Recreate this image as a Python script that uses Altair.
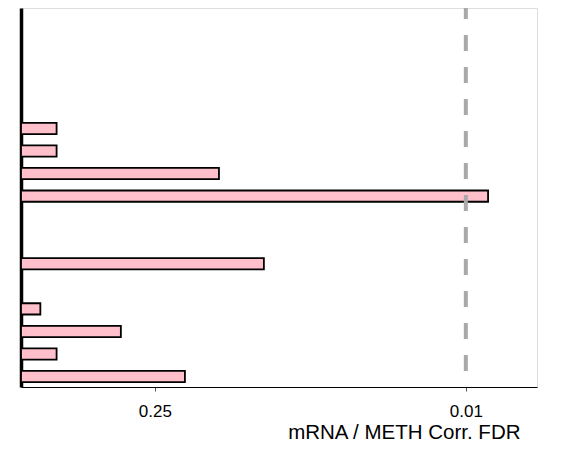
import altair as alt
import numpy as np
import pandas as pd

# rows from top to bottom (17 slots, empty slots have no bar)
rows = [f"row{i:02d}" for i in range(1, 18)]
neg_log10_fdr = [None, None, None, None, None, 0.16, 0.16, 0.89, 2.10,
                 None, None, 1.092, None, 0.087, 0.449, 0.16, 0.737]
tick_labels = ["0.25", "0.01"]
threshold_fdr = 0.01

tick_values = [float(-np.log10(float(t))) for t in tick_labels]
threshold = float(-np.log10(threshold_fdr))

df = pd.DataFrame({"row": rows, "value": neg_log10_fdr}).dropna()

FONT = "Liberation Sans"

x_scale = alt.Scale(domain=[0, 2.32], nice=False, zero=True)
y_scale = alt.Scale(domain=rows, paddingInner=0.5, paddingOuter=0.153, align=0.3)

bars = alt.Chart(df).mark_bar(fill="#FFC0CB", stroke="black", strokeWidth=1.8).encode(
    x=alt.X("value:Q", scale=x_scale,
            axis=alt.Axis(values=tick_values, labelExpr="format(pow(10, -datum.value), '.2')",
                          title="mRNA / METH Corr. FDR", grid=False,
                          domainColor="black", domainWidth=1,
                          tickColor="#555555", tickSize=4, tickWidth=1,
                          labelFont=FONT, labelFontSize=17, labelColor="black",
                          labelBaseline="alphabetic", labelPadding=25,
                          titleFont=FONT, titleFontSize=20.5, titleFontWeight="normal",
                          titleColor="black", titleAlign="right", titleAnchor="end",
                          titleX=499, titleY=51, titleBaseline="alphabetic")),
    y=alt.Y("row:N", scale=y_scale,
            axis=alt.Axis(labels=False, ticks=False, title=None, grid=False,
                          domainColor="black", domainWidth=3.5)),
)

rule = alt.Chart(pd.DataFrame({"t": [threshold]})).mark_rule(
    color="#A9A9A9", strokeWidth=4, strokeDash=[16, 16], strokeDashOffset=5
).encode(x=alt.X("t:Q", scale=x_scale))

chart = alt.layer(bars, rule).properties(
    width=516, height=379,
    autosize=alt.AutoSizeParams(type="none"),
    padding={"left": 13, "top": 0, "right": 18, "bottom": 56},
).configure_view(stroke=None).configure(background="white")

chart.save("out.html", embed_options={"renderer": "svg", "actions": False})
